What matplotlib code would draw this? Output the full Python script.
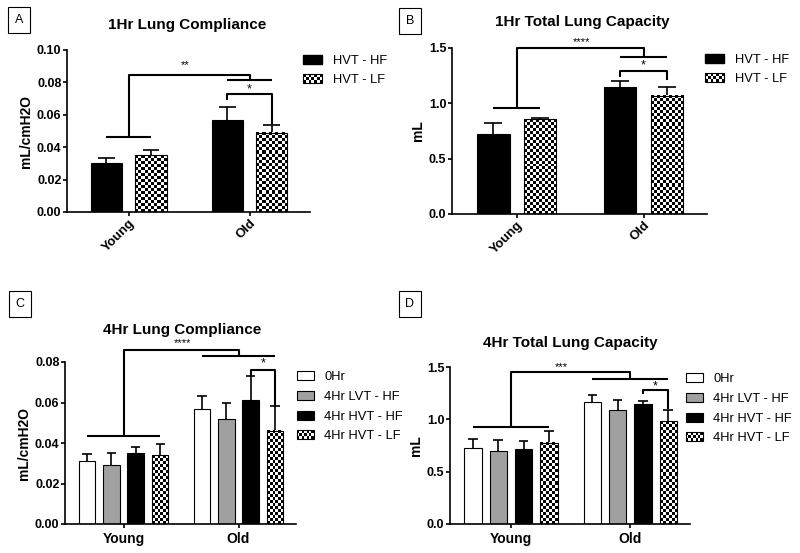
import numpy as np
import matplotlib
matplotlib.use("Agg")
import matplotlib.pyplot as plt
from matplotlib.patches import Rectangle
from matplotlib.legend_handler import HandlerBase

plt.rcParams["font.family"] = ["Liberation Sans", "DejaVu Sans"]

groups = ["Young", "Old"]

# A: 1Hr lung compliance (mL/cmH2O)
a_hf = [0.030, 0.057]
a_hf_err = [0.0035, 0.008]
a_lf = [0.035, 0.049]
a_lf_err = [0.0035, 0.0045]

# B: 1Hr total lung capacity (mL)
b_hf = [0.72, 1.15]
b_hf_err = [0.10, 0.05]
b_lf = [0.855, 1.07]
b_lf_err = [0.015, 0.075]

# C: 4Hr lung compliance (mL/cmH2O)
c_0hr = [0.031, 0.057]
c_0hr_err = [0.0037, 0.0062]
c_lvt_hf = [0.029, 0.052]
c_lvt_hf_err = [0.006, 0.008]
c_hvt_hf = [0.0352, 0.061]
c_hvt_hf_err = [0.003, 0.012]
c_hvt_lf = [0.034, 0.046]
c_hvt_lf_err = [0.0056, 0.0125]

# D: 4Hr total lung capacity (mL)
d_0hr = [0.73, 1.167]
d_0hr_err = [0.08, 0.063]
d_lvt_hf = [0.70, 1.088]
d_lvt_hf_err = [0.10, 0.10]
d_hvt_hf = [0.717, 1.151]
d_hvt_hf_err = [0.08, 0.026]
d_hvt_lf = [0.777, 0.983]
d_hvt_lf_err = [0.113, 0.105]

two_labels = ["HVT - HF", "HVT - LF"]
four_labels = ["0Hr", "4Hr LVT - HF", "4Hr HVT - HF", "4Hr HVT - LF"]

LW = 1.2


class CheckerHandle:
    pass


class CheckerHandler(HandlerBase):
    def create_artists(self, legend, orig_handle, xdescent, ydescent,
                       width, height, fontsize, trans):
        nx, ny = 7, 3
        cw, ch = width / nx, height / ny
        arts = []
        for i in range(nx):
            for j in range(ny):
                if (i + j) % 2 == 0:
                    arts.append(Rectangle((-xdescent + i * cw, -ydescent + j * ch), cw, ch,
                                          fc="black", ec="none", transform=trans))
        arts.append(Rectangle((-xdescent, -ydescent), width, height, fc="none",
                              ec="black", lw=0.8, transform=trans))
        return arts


def checker_bar(ax, x, h, w):
    # checkerboard fill drawn as an image inside the bar outline
    bb = ax.get_window_extent()
    x0, x1 = ax.get_xlim()
    y0, y1 = ax.get_ylim()
    px_x = w * bb.width / (x1 - x0)
    px_y = h * bb.height / (y1 - y0)
    nx = max(1, int(round(px_x / 3.0)))
    ny = max(1, int(round(px_y / 3.0)))
    board = (np.indices((ny, nx)).sum(axis=0) % 2).astype(float)
    ax.imshow(board, extent=[x - w / 2, x + w / 2, 0, h], aspect="auto",
              interpolation="nearest", cmap="gray", vmin=0, vmax=1, zorder=2)
    ax.set_xlim(x0, x1)
    ax.set_ylim(y0, y1)


def draw_panel(ax, series, errs, styles, offsets, width, ylim, yticks, fmt,
               ylabel, rotate, cap):
    x = np.arange(len(groups))
    ax.set_xlim(-0.51, 1.5)
    ax.set_ylim(*ylim)
    for vals, err, st, off in zip(series, errs, styles, offsets):
        pos = x + off
        top = np.array(vals) + np.array(err)
        ax.vlines(pos, vals, top, color="black", lw=LW, zorder=1)
        ax.hlines(top, pos - cap, pos + cap, color="black", lw=LW, zorder=1)
        if st == "checker":
            for p, v in zip(pos, vals):
                checker_bar(ax, p, v, width)
            ax.bar(pos, vals, width, facecolor="none", edgecolor="black",
                   linewidth=0.8, zorder=3)
        else:
            ax.bar(pos, vals, width, color=st, edgecolor="black", linewidth=0.8, zorder=2)
    ax.set_yticks(yticks)
    ax.set_yticklabels([fmt.format(t) for t in yticks], fontweight="bold", fontsize=9)
    ax.set_xticks(x)
    if rotate:
        ax.set_xticklabels(groups, rotation=45, ha="right", rotation_mode="anchor",
                           fontweight="bold", fontsize=9.5)
        ax.tick_params(axis="x", pad=1)
    else:
        ax.set_xticklabels(groups, fontweight="bold", fontsize=10)
        ax.tick_params(axis="x", pad=3)
    ax.set_ylabel(ylabel, fontweight="bold", fontsize=10, labelpad=3)
    for s in ["top", "right"]:
        ax.spines[s].set_visible(False)
    for s in ["left", "bottom"]:
        ax.spines[s].set_linewidth(LW)
    ax.tick_params(width=LW, length=3)
    ax.tick_params(axis="y", pad=1)


def brackets(ax, offsets, young_lvl, top, old_lvl, s_start, s_top, s_end,
             main_txt, main_x, main_y, star_y, star_i, star_j):
    kw = dict(color="black", lw=1.5, clip_on=False, solid_capstyle="butt")
    lo, hi = min(offsets), max(offsets)
    ax.plot([lo, hi], [young_lvl, young_lvl], **kw)
    ax.plot([0, 0, 1, 1], [young_lvl, top, top, old_lvl], **kw)
    ax.plot([1 + lo, 1 + hi], [old_lvl, old_lvl], **kw)
    xs, xe = 1 + offsets[star_i], 1 + offsets[star_j]
    ax.plot([xs, xs, xe, xe], [s_start, s_top, s_top, s_end], **kw)
    ax.text(main_x, main_y, main_txt, ha="center", va="center", fontsize=8)
    ax.text((xs + xe) / 2, star_y, "*", ha="center", va="center", fontsize=9)


def panel_label(fig, x, y, s):
    fig.text(x / 800, 1 - y / 553, s, ha="center", va="center", fontsize=9,
             bbox=dict(boxstyle="square,pad=0.55", fc="white", ec="black", lw=0.8))


fig = plt.figure(figsize=(8, 5.53), dpi=100)


def px_axes(left, top, right, bottom):
    return fig.add_axes([left / 800, 1 - bottom / 553, (right - left) / 800,
                         (bottom - top) / 553])


off2 = [-0.185, 0.185]
w2 = 0.257
off4 = [-0.318, -0.106, 0.106, 0.318]
w4 = 0.145

axA = px_axes(67, 50, 310, 212)
axB = px_axes(452, 48, 707, 214)
axC = px_axes(65, 362, 296, 524)
axD = px_axes(450, 367, 690, 524)

draw_panel(axA, [a_hf, a_lf], [a_hf_err, a_lf_err], ["black", "checker"], off2, w2,
           (0, 0.10), [0, 0.02, 0.04, 0.06, 0.08, 0.10], "{:.2f}", "mL/cmH2O", True, 0.07)
draw_panel(axB, [b_hf, b_lf], [b_hf_err, b_lf_err], ["black", "checker"], off2, w2,
           (0, 1.5), [0, 0.5, 1.0, 1.5], "{:.1f}", "mL", True, 0.07)
four_styles = ["white", "#a0a0a0", "black", "checker"]
draw_panel(axC, [c_0hr, c_lvt_hf, c_hvt_hf, c_hvt_lf],
           [c_0hr_err, c_lvt_hf_err, c_hvt_hf_err, c_hvt_lf_err], four_styles, off4, w4,
           (0, 0.08), [0, 0.02, 0.04, 0.06, 0.08], "{:.2f}", "mL/cmH2O", False, 0.04)
draw_panel(axD, [d_0hr, d_lvt_hf, d_hvt_hf, d_hvt_lf],
           [d_0hr_err, d_lvt_hf_err, d_hvt_hf_err, d_hvt_lf_err], four_styles, off4, w4,
           (0, 1.5), [0, 0.5, 1.0, 1.5], "{:.1f}", "mL", False, 0.04)

brackets(axA, off2, 0.0462, 0.0846, 0.0815, 0.0692, 0.0727, 0.0544,
         "**", 0.47, 0.0905, 0.0755, 0, 1)
brackets(axB, off2, 0.96, 1.50, 1.419, 1.24, 1.29, 1.21,
         "****", 0.51, 1.555, 1.345, 0, 1)
brackets(axC, off4, 0.0433, 0.0858, 0.0828, 0.0729, 0.0762, 0.0584,
         "****", 0.51, 0.0894, 0.0795, 2, 3)
brackets(axD, off4, 0.93, 1.45, 1.383, 1.246, 1.278, 1.094,
         "***", 0.42, 1.50, 1.316, 2, 3)

# titles
fig.text(187 / 800, 1 - 25 / 553, "1Hr Lung Compliance", ha="center", va="center",
         fontsize=11, fontweight="bold")
fig.text(582 / 800, 1 - 22 / 553, "1Hr Total Lung Capacity", ha="center", va="center",
         fontsize=11, fontweight="bold")
fig.text(182 / 800, 1 - 330 / 553, "4Hr Lung Compliance", ha="center", va="center",
         fontsize=11, fontweight="bold")
fig.text(570 / 800, 1 - 343 / 553, "4Hr Total Lung Capacity", ha="center", va="center",
         fontsize=11, fontweight="bold")

panel_label(fig, 19, 20, "A")
panel_label(fig, 410, 21, "B")
panel_label(fig, 20, 304, "C")
panel_label(fig, 410, 304, "D")

# legends
ck = CheckerHandle()
two_handles = [Rectangle((0, 0), 1, 1, fc="black", ec="black"), ck]
four_handles = [Rectangle((0, 0), 1, 1, fc=c, ec="black", lw=0.8) for c in four_styles[:3]] + [ck]
leg_kw = dict(loc="upper left", frameon=False, borderpad=0, borderaxespad=0,
              handlelength=1.5, handleheight=0.7, handletextpad=0.8, labelspacing=0.55,
              fontsize=9.3, bbox_transform=fig.transFigure,
              handler_map={CheckerHandle: CheckerHandler()})
axA.legend(two_handles, two_labels, bbox_to_anchor=(303 / 800, 1 - 55 / 553), **leg_kw)
axB.legend(two_handles, two_labels, bbox_to_anchor=(705 / 800, 1 - 54 / 553), **leg_kw)
leg_kw4 = dict(leg_kw, handlelength=1.3, labelspacing=0.6)
axC.legend(four_handles, four_labels, bbox_to_anchor=(297 / 800, 1 - 371 / 553), **leg_kw4)
axD.legend(four_handles, four_labels, bbox_to_anchor=(686 / 800, 1 - 373 / 553), **leg_kw4)

fig.savefig("out.png", dpi=100)
